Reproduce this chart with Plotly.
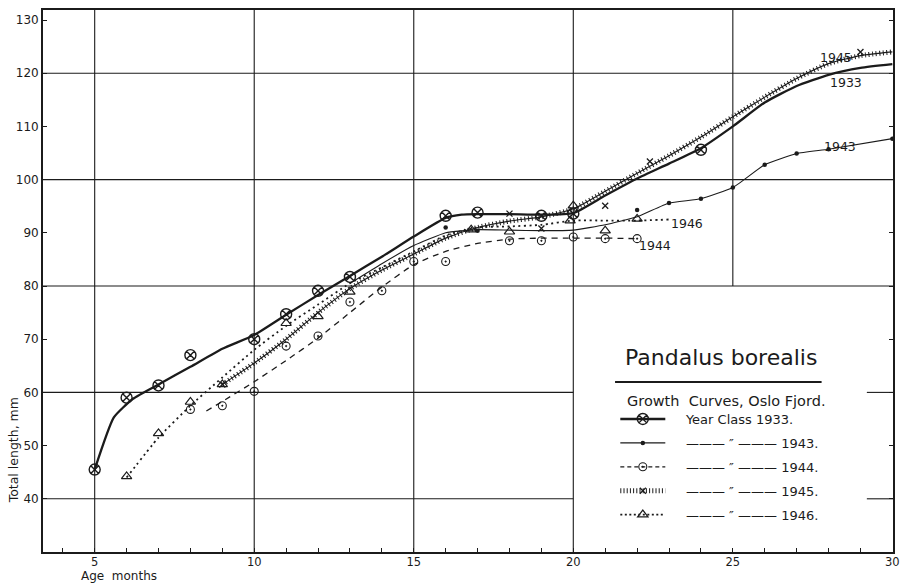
import plotly.graph_objects as go

# ---------------- data ----------------
# Year class 1933: observed means and the fitted growth curve
age_1933 = [5, 6, 7, 8, 10, 11, 12, 13, 16, 17, 19, 20, 24]
len_1933 = [45.5, 59.0, 61.3, 67.0, 70.0, 74.7, 79.1, 81.7, 93.2, 93.8, 93.2, 93.6, 105.6]
curve_age_1933 = [5, 5.6, 6.2, 7, 8, 9, 10, 11, 12, 13, 14, 15, 16, 16.5, 17, 18, 19, 20,
                  21, 22, 23, 24, 25, 26, 27, 28, 29, 30]
curve_len_1933 = [45.5, 55.3, 58.8, 61.5, 64.8, 68.2, 70.8, 74.6, 78.3, 81.9, 85.5, 89.3,
                  92.8, 93.4, 93.5, 93.5, 93.4, 93.7, 97.0, 100.2, 103.0, 105.9, 110.0,
                  114.5, 117.6, 119.7, 121.0, 121.7]

# Year class 1943
age_1943 = [16, 17, 22, 23, 24, 25, 26, 27, 28, 30]
len_1943 = [91.0, 90.4, 94.3, 95.6, 96.4, 98.5, 102.8, 104.9, 105.7, 107.7]
curve_age_1943 = [13, 14, 15, 16, 17, 18, 19, 20, 21, 22, 23, 24, 25, 26, 27, 28, 30]
curve_len_1943 = [80.5, 84.2, 87.6, 90.0, 90.6, 90.5, 90.4, 90.5, 91.5, 93.0, 95.6, 96.4,
                  98.5, 102.8, 104.9, 105.7, 107.7]

# Year class 1944
age_1944 = [8, 9, 10, 11, 12, 13, 14, 15, 16, 18, 19, 20, 21, 22]
len_1944 = [56.8, 57.5, 60.2, 68.7, 70.6, 77.0, 79.1, 84.6, 84.6, 88.5, 88.5, 89.2, 88.9, 88.9]
curve_age_1944 = [8.5, 9, 10, 11, 12, 13, 14, 15, 16, 17, 18, 19, 20, 21, 22]
curve_len_1944 = [56.5, 58.3, 62.0, 66.0, 70.2, 75.0, 79.8, 84.0, 86.5, 88.0, 88.8, 89.0,
                  89.0, 89.0, 88.9]

# Year class 1945
age_1945 = [9, 18, 19, 21, 22.4, 29]
len_1945 = [61.5, 93.6, 90.8, 95.1, 103.4, 124.0]
curve_age_1945 = [9, 10, 11, 12, 13, 14, 15, 16, 17, 18, 19, 20, 21, 22, 23, 24, 25, 26,
                  27, 28, 29, 30]
curve_len_1945 = [61.5, 65.5, 70.0, 75.0, 79.5, 83.0, 86.0, 89.0, 91.0, 92.2, 93.0, 94.5,
                  97.8, 101.2, 104.5, 108.0, 111.8, 115.5, 119.0, 121.8, 123.3, 124.0]

# Year class 1946
age_1946 = [6, 7, 8, 9, 11, 12, 13, 16.8, 18, 19.9, 20, 21, 22]
len_1946 = [44.2, 52.3, 58.2, 61.5, 73.0, 74.3, 78.9, 90.6, 90.2, 92.3, 95.1, 90.4, 92.6]
curve_age_1946 = [6, 7, 8, 9, 10, 11, 12, 13, 14, 15, 16, 17, 18, 19, 20, 21, 22, 23]
curve_len_1946 = [44.0, 51.5, 57.5, 62.8, 68.0, 72.5, 76.5, 80.5, 83.5, 86.5, 89.5, 91.0,
                  91.2, 91.5, 92.3, 92.3, 92.3, 92.5]

# curve end labels
label_text = ["1945", "1933", "1943", "1946", "1944"]
label_age = [28.23, 28.54, 28.35, 23.56, 22.57]
label_len = [123.0, 118.3, 106.3, 91.7, 87.7]

# axis ticks and grid
x_ticks = list(range(4, 31))
x_major = [5, 10, 15, 20, 25, 30]
y_ticks = list(range(40, 131, 10))
grid_x_full = [5, 10, 15, 20]
grid_x_upper = [25]
grid_y_full = [80, 100, 120]
grid_y_left = [40, 60]

# ---------------- styling ----------------
INK = "#1b1b1b"
FONT = "DejaVu Sans"
X_RANGE = [3.38, 30.02]
Y_RANGE = [30.0, 131.88]
BOX_X = [20, 29.2]   # blank panel that carries the key
BOX_TOP = 80
PAD = "\u2002\u2002\u2009"

fig = go.Figure()

# hatched band for 1945 (short perpendicular strokes) under a thin centre line
fig.add_trace(go.Scatter(x=curve_age_1945, y=curve_len_1945, mode="lines",
                         line=dict(color=INK, width=5, dash="1px,2.6px", shape="spline",
                                   smoothing=0.6),
                         showlegend=False, hoverinfo="skip"))
fig.add_trace(go.Scatter(x=curve_age_1945, y=curve_len_1945, mode="lines",
                         line=dict(color=INK, width=1.1, shape="spline", smoothing=0.6),
                         showlegend=False, hoverinfo="skip"))

# growth curves
fig.add_trace(go.Scatter(x=curve_age_1933, y=curve_len_1933, mode="lines",
                         line=dict(color=INK, width=2.3, shape="spline", smoothing=0.5),
                         showlegend=False))
fig.add_trace(go.Scatter(x=curve_age_1943, y=curve_len_1943, mode="lines",
                         line=dict(color=INK, width=1.1, shape="spline", smoothing=0.4),
                         showlegend=False))
fig.add_trace(go.Scatter(x=curve_age_1944, y=curve_len_1944, mode="lines",
                         line=dict(color=INK, width=1.3, dash="6px,5px", shape="spline",
                                   smoothing=0.6),
                         showlegend=False))
fig.add_trace(go.Scatter(x=curve_age_1946, y=curve_len_1946, mode="lines",
                         line=dict(color=INK, width=1.8, dash="2px,3.5px", shape="spline",
                                   smoothing=0.6),
                         showlegend=False))

# observed means
marker_styles = {
    "1933": dict(symbol="circle-x-open", size=11, color=INK, line=dict(width=1.4, color=INK)),
    "1943": dict(symbol="circle", size=4.5, color=INK),
    "1944": dict(symbol="circle-open-dot", size=8, color=INK, line=dict(width=1.1, color=INK)),
    "1945": dict(symbol="x-thin-open", size=6, color=INK, line=dict(width=1.3, color=INK)),
    "1946": dict(symbol="triangle-up-open", size=9, color=INK, line=dict(width=1.2, color=INK)),
}
obs = {"1933": (age_1933, len_1933), "1943": (age_1943, len_1943),
       "1944": (age_1944, len_1944), "1945": (age_1945, len_1945),
       "1946": (age_1946, len_1946)}
for yc, (ax, ly) in obs.items():
    fig.add_trace(go.Scatter(x=ax, y=ly, mode="markers", marker=marker_styles[yc],
                             showlegend=False, name=yc))

# key entries
key_names = ["Year Class 1933.", "——— ″ ——— 1943.", "——— ″ ——— 1944.",
             "——— ″ ——— 1945.", "——— ″ ——— 1946."]
key_lines = [dict(color=INK, width=2.3), dict(color=INK, width=1.1),
             dict(color=INK, width=1.3, dash="4px,3px"),
             dict(color=INK, width=5, dash="1px,2.2px"),
             dict(color=INK, width=1.6, dash="2px,2.5px")]
for yc, nm, ln in zip(["1933", "1943", "1944", "1945", "1946"], key_names, key_lines):
    fig.add_trace(go.Scatter(x=[None], y=[None], mode="lines+markers", name=PAD + nm,
                             line=ln, marker=marker_styles[yc], legendgroup=yc))

# grid
gl = dict(color=INK, width=1.1)
for gx in grid_x_full:
    fig.add_shape(type="line", x0=gx, x1=gx, y0=Y_RANGE[0], y1=Y_RANGE[1], line=gl, layer="below")
for gx in grid_x_upper:
    fig.add_shape(type="line", x0=gx, x1=gx, y0=BOX_TOP, y1=Y_RANGE[1], line=gl, layer="below")
for gy in grid_y_full:
    fig.add_shape(type="line", x0=X_RANGE[0], x1=X_RANGE[1], y0=gy, y1=gy, line=gl, layer="below")
for gy in grid_y_left:
    fig.add_shape(type="line", x0=X_RANGE[0], x1=BOX_X[0], y0=gy, y1=gy, line=gl, layer="below")
    fig.add_shape(type="line", x0=BOX_X[1], x1=X_RANGE[1], y0=gy, y1=gy, line=gl, layer="below")

# curve labels
for t, xa, ya in zip(label_text, label_age, label_len):
    fig.add_annotation(x=xa, y=ya, text=t, showarrow=False, xanchor="center", yanchor="middle",
                       font=dict(family=FONT, size=12.5, color=INK))

# key heading
fig.add_annotation(x=0.798, y=0.358, xref="paper", yref="paper", text="Pandalus borealis",
                   xanchor="center", yanchor="middle", showarrow=False,
                   font=dict(family=FONT, size=22, color=INK))
fig.add_shape(type="line", xref="paper", yref="paper", x0=0.673, x1=0.916, y0=0.3137, y1=0.3137,
              line=dict(color=INK, width=2))
fig.add_annotation(x=0.685, y=0.2786, xref="paper", yref="paper", xanchor="left",
                   yanchor="middle", text="Growth  Curves, Oslo Fjord.", showarrow=False,
                   font=dict(family=FONT, size=14.5, color=INK))

# axis titles
fig.add_annotation(x=-0.035, y=0.188, xref="paper", yref="paper", text="Total length, mm",
                   xanchor="center", yanchor="middle", textangle=-90, showarrow=False,
                   font=dict(family=FONT, size=12.5, color=INK))
fig.add_annotation(x=0.0898, y=-0.0452, xref="paper", yref="paper", text="Age  months",
                   xanchor="center", yanchor="middle", showarrow=False,
                   font=dict(family=FONT, size=12, color=INK))

fig.update_layout(
    width=906, height=586,
    margin=dict(l=43, r=6, t=10, b=34),
    paper_bgcolor="white", plot_bgcolor="white",
    font=dict(family=FONT, size=12, color=INK),
    xaxis=dict(range=X_RANGE, tickvals=x_ticks,
               ticktext=[str(v) if v in x_major else "" for v in x_ticks],
               ticks="inside", ticklen=4, tickwidth=1.2, tickcolor=INK, ticklabelstandoff=-2,
               showgrid=False, zeroline=False, showline=True, linewidth=1.8,
               linecolor=INK, mirror=True, tickfont=dict(family=FONT, size=11.5, color=INK)),
    yaxis=dict(range=Y_RANGE, tickvals=y_ticks, ticks="inside", ticklen=4, tickwidth=1.2,
               tickcolor=INK, showgrid=False, zeroline=False, showline=True, linewidth=1.8,
               linecolor=INK, mirror="ticks", tickfont=dict(family=FONT, size=12, color=INK)),
    legend=dict(x=0.6733, y=0.273, xanchor="left", yanchor="top",
                bgcolor="rgba(0,0,0,0)", itemwidth=45, tracegroupgap=4,
                font=dict(family=FONT, size=13, color=INK)),
    showlegend=True,
)

fig.write_html("out.html")
